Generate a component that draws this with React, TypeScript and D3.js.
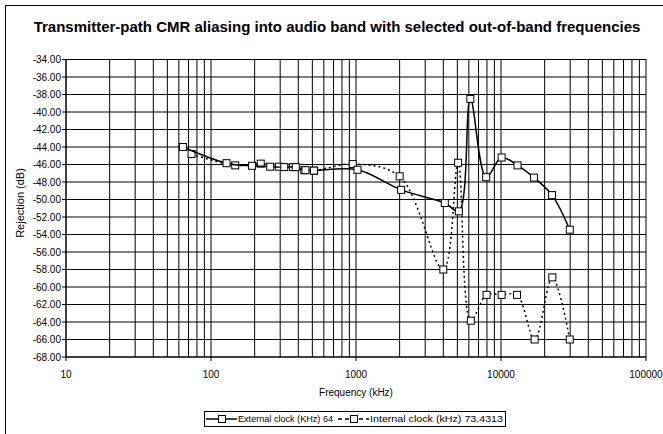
import { useEffect, useRef } from "react"
import * as d3 from "d3"

const title = "Transmitter-path CMR aliasing into audio band with selected out-of-band frequencies"

// external clock 64 kHz
const extFreq = [64, 128, 192, 256, 320, 384, 448, 512, 1024, 2048, 4096, 5120, 6144, 7900, 10100, 13000, 16900, 22500, 29800]
const extRejection = [-44.0, -45.85, -46.15, -46.25, -46.3, -46.3, -46.65, -46.7, -46.6, -48.9, -50.4, -51.35, -38.5, -47.45, -45.2, -46.1, -47.5, -49.5, -53.45]

// internal clock 73.4313 kHz
const intFreq = [73.4, 146.9, 220.3, 293.7, 367.2, 440.6, 514, 950, 2000, 4000, 5060, 6190, 7950, 10100, 12900, 17050, 22600, 29800]
const intRejection = [-44.8, -46.1, -45.9, -46.25, -46.3, -46.65, -46.7, -45.95, -47.35, -58.0, -45.8, -63.85, -60.9, -60.9, -60.9, -66.0, -58.9, -66.0]

const yTicks = d3.range(-68, -33, 2)
const xDecades = [10, 100, 1000, 10000, 100000]

const font = "'Liberation Sans', Arial, sans-serif"

export default function App() {
  const svgRef = useRef(null)

  useEffect(() => {
    const width = 663
    const height = 434
    const left = 66
    const right = 646
    const top = 59.5
    const bottom = 357

    const svg = d3.select(svgRef.current).attr("width", width).attr("height", height)
    svg.selectAll("*").remove()

    const x = d3.scaleLog().domain([10, 100000]).range([left, right])
    const y = d3.scaleLinear().domain([-68, -34]).range([bottom, top])

    svg.append("rect").attr("width", width).attr("height", height).attr("fill", "#fff")
    // chart area frame (only left/top edges fall inside the picture)
    svg
      .append("rect")
      .attr("x", 5.5)
      .attr("y", 5.5)
      .attr("width", 760)
      .attr("height", 520)
      .attr("fill", "none")
      .attr("stroke", "#000")

    svg
      .append("text")
      .attr("x", 337)
      .attr("y", 32)
      .attr("text-anchor", "middle")
      .attr("font-family", font)
      .attr("font-weight", "bold")
      .attr("font-size", 15)
      .text(title)

    const grid = svg.append("g")
    // vertical grid at every 1..9 x decade
    const minor: number[] = []
    for (let d = 10; d < 100000; d *= 10) for (let k = 1; k < 10; k++) minor.push(d * k)
    grid
      .selectAll("line.v")
      .data(minor)
      .enter()
      .append("line")
      .attr("x1", (d) => x(d))
      .attr("x2", (d) => x(d))
      .attr("y1", top)
      .attr("y2", bottom)
      .attr("stroke", "#000")
      .attr("stroke-width", 1)
    grid
      .selectAll("line.h")
      .data(yTicks)
      .enter()
      .append("line")
      .attr("x1", left)
      .attr("x2", right)
      .attr("y1", (d) => y(d))
      .attr("y2", (d) => y(d))
      .attr("stroke", "#000")
      .attr("stroke-width", 1)

    svg
      .append("rect")
      .attr("x", left)
      .attr("y", top)
      .attr("width", right - left)
      .attr("height", bottom - top)
      .attr("fill", "none")
      .attr("stroke", "#000")

    // y axis ticks + labels
    const yAxis = svg.append("g")
    yAxis
      .selectAll("line")
      .data(yTicks)
      .enter()
      .append("line")
      .attr("x1", left - 4)
      .attr("x2", left)
      .attr("y1", (d) => y(d))
      .attr("y2", (d) => y(d))
      .attr("stroke", "#000")
    yAxis
      .selectAll("text")
      .data(yTicks)
      .enter()
      .append("text")
      .attr("x", left - 5)
      .attr("y", (d) => y(d) + 3.5)
      .attr("text-anchor", "end")
      .attr("font-family", font)
      .attr("font-size", 10)
      .text((d) => d3.format(".2f")(d).replace("−", "-"))

    const xAxis = svg.append("g")
    xAxis
      .selectAll("line")
      .data(xDecades)
      .enter()
      .append("line")
      .attr("x1", (d) => x(d))
      .attr("x2", (d) => x(d))
      .attr("y1", bottom)
      .attr("y2", bottom + 4)
      .attr("stroke", "#000")
    xAxis
      .selectAll("text")
      .data(xDecades)
      .enter()
      .append("text")
      .attr("x", (d) => x(d))
      .attr("y", 378)
      .attr("text-anchor", "middle")
      .attr("font-family", font)
      .attr("font-size", 10)
      .text((d) => String(d))

    svg
      .append("text")
      .attr("x", (left + right) / 2)
      .attr("y", 396)
      .attr("text-anchor", "middle")
      .attr("font-family", font)
      .attr("font-size", 10)
      .text("Frequency (kHz)")

    svg
      .append("text")
      .attr("transform", `translate(24, 203) rotate(-90)`)
      .attr("text-anchor", "middle")
      .attr("font-family", font)
      .attr("font-size", 11)
      .text("Rejection (dB)")

    const line = d3
      .line<[number, number]>()
      .x((d) => x(d[0]))
      .y((d) => y(d[1]))
      .curve(d3.curveCatmullRom.alpha(0.5))

    const series = [
      { pts: intFreq.map((f, i) => [f, intRejection[i]] as [number, number]), dash: "2,3" },
      { pts: extFreq.map((f, i) => [f, extRejection[i]] as [number, number]), dash: null },
    ]

    series.forEach((s) => {
      svg
        .append("path")
        .attr("d", line(s.pts))
        .attr("fill", "none")
        .attr("stroke", "#000")
        .attr("stroke-width", 1.5)
        .attr("stroke-dasharray", s.dash)
      svg
        .append("g")
        .selectAll("rect")
        .data(s.pts)
        .enter()
        .append("rect")
        .attr("x", (d) => x(d[0]) - 3.5)
        .attr("y", (d) => y(d[1]) - 3.5)
        .attr("width", 7)
        .attr("height", 7)
        .attr("fill", "#fff")
        .attr("stroke", "#000")
    })

    // legend
    const lg = svg.append("g")
    lg.append("rect")
      .attr("x", 204.5)
      .attr("y", 411.5)
      .attr("width", 301)
      .attr("height", 15)
      .attr("fill", "#fff")
      .attr("stroke", "#000")
    const items = [
      { x0: 206, label: "External clock (KHz) 64", dash: null, len: 95 },
      { x0: 338, label: "Internal clock (kHz) 73.4313", dash: "4,3", len: 133 },
    ]
    items.forEach((it) => {
      lg.append("line")
        .attr("x1", it.x0)
        .attr("x2", it.x0 + 31)
        .attr("y1", 419)
        .attr("y2", 419)
        .attr("stroke", "#000")
        .attr("stroke-width", 1.5)
        .attr("stroke-dasharray", it.dash)
      lg.append("rect")
        .attr("x", it.x0 + 12.5)
        .attr("y", 415.5)
        .attr("width", 7)
        .attr("height", 7)
        .attr("fill", "#fff")
        .attr("stroke", "#000")
      lg.append("text")
        .attr("x", it.x0 + 32)
        .attr("y", 422)
        .attr("font-family", font)
        .attr("font-size", 9.5)
        .attr("textLength", it.len)
        .attr("lengthAdjust", "spacingAndGlyphs")
        .text(it.label)
    })
  }, [])

  return (
    <div style={{ position: "fixed", left: 0, top: 0 }}>
      <svg ref={svgRef} style={{ display: "block" }}></svg>
    </div>
  )
}
